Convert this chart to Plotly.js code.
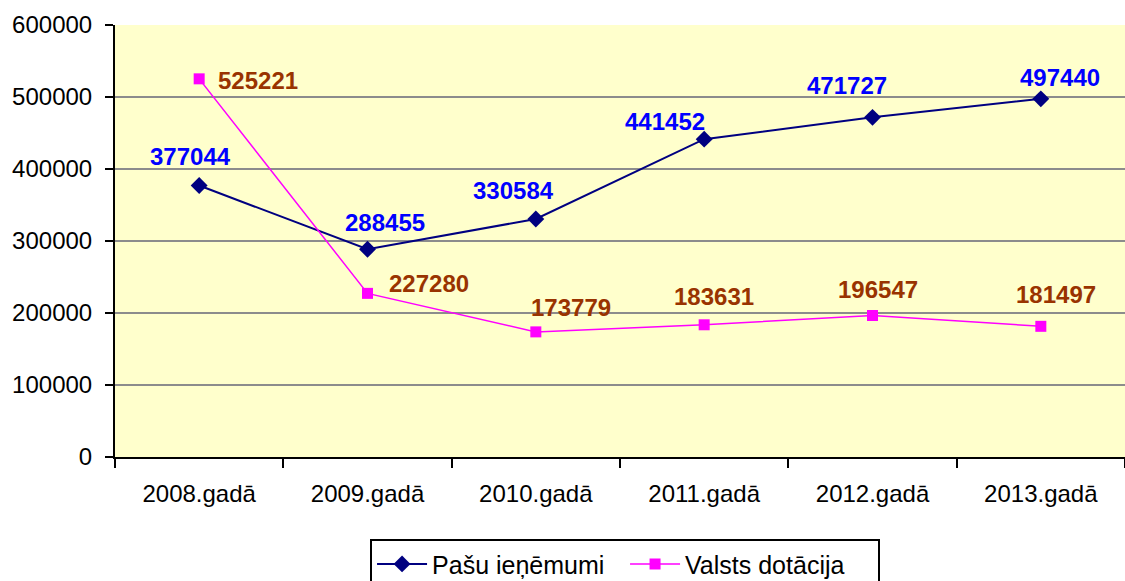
<!DOCTYPE html>
<html><head><meta charset="utf-8">
<script src="https://cdn.plot.ly/plotly-3.0.1.min.js"></script>
<style>html,body{margin:0;padding:0;background:#fff;}</style>
</head><body>
<div id="chart" style="width:1125px;height:581px;"></div>
<script>
const categories = ["2008.gadā","2009.gadā","2010.gadā","2011.gadā","2012.gadā","2013.gadā"];
const pasuIenemumi = [377044, 288455, 330584, 441452, 471727, 497440];
const valstsDotacija = [525221, 227280, 173779, 183631, 196547, 181497];
const seriesNames = ["Pašu ieņēmumi", "Valsts dotācija"];

// label offsets in pixels (style only)
const pasuLabelDx = [-9, 17, -22, -39, -26, 19];
const pasuLabelDy = [29, 27, 28, 18, 32, 21];
const valstsLabelDx = [59, 61, 35, 10, 5, 15];
const valstsLabelDy = [-2, 10, 24, 28, 26, 32];

const FONT = "Liberation Sans, Arial, sans-serif";

const traces = [
  {
    x: categories, y: pasuIenemumi, name: seriesNames[0],
    type: "scatter", mode: "lines+markers",
    line: {color: "#000080", width: 2},
    marker: {symbol: "diamond", size: 13, color: "#000080"},
    cliponaxis: false
  },
  {
    x: categories, y: valstsDotacija, name: seriesNames[1],
    type: "scatter", mode: "lines+markers",
    line: {color: "#FF00FF", width: 1.5},
    marker: {symbol: "square", size: 11, color: "#FF00FF"},
    cliponaxis: false
  }
];

const annotations = [];
categories.forEach((c, i) => {
  annotations.push({
    x: c, y: pasuIenemumi[i], xref: "x", yref: "y",
    text: String(pasuIenemumi[i]), showarrow: false,
    xshift: pasuLabelDx[i], yshift: pasuLabelDy[i],
    font: {family: FONT, size: 24, color: "#0000FF", weight: "bold"}
  });
  annotations.push({
    x: c, y: valstsDotacija[i], xref: "x", yref: "y",
    text: String(valstsDotacija[i]), showarrow: false,
    xshift: valstsLabelDx[i], yshift: valstsLabelDy[i],
    font: {family: FONT, size: 24, color: "#993300", weight: "bold"}
  });
});

const layout = {
  width: 1125, height: 581,
  margin: {l: 115, r: 0, t: 25, b: 124, autoexpand: false},
  paper_bgcolor: "#FFFFFF",
  plot_bgcolor: "#FFFFCC",
  font: {family: FONT, size: 24, color: "#000"},
  showlegend: true,
  legend: {
    orientation: "h", xref: "container", x: 0.5556, xanchor: "center",
    yref: "container", y: 0.072, yanchor: "top",
    bordercolor: "#000", borderwidth: 2, bgcolor: "#fff",
    entrywidth: 188, itemwidth: 50,
    font: {family: FONT, size: 25, color: "#000"}
  },
  annotations: annotations,
  xaxis: {
    type: "category", range: [-0.5, 5.5], automargin: false,
    showline: true, linecolor: "#000", linewidth: 2,
    ticks: "outside", tickson: "boundaries", ticklen: 9, tickcolor: "#000", tickwidth: 2,
    ticklabelstandoff: 14,
    showgrid: false, zeroline: false,
    tickfont: {family: FONT, size: 24, color: "#000"}
  },
  yaxis: {
    range: [0, 600000], dtick: 100000, tickformat: "d", automargin: false,
    showline: true, linecolor: "#000", linewidth: 2,
    ticks: "outside", ticklen: 8, tickcolor: "#000", tickwidth: 2,
    ticklabelstandoff: 8,
    showgrid: true, gridcolor: "#8C8C8C", gridwidth: 2,
    zeroline: false,
    tickfont: {family: FONT, size: 24, color: "#000"}
  }
};

Plotly.newPlot("chart", traces, layout, {displayModeBar: false, staticPlot: true});
</script>
</body></html>
